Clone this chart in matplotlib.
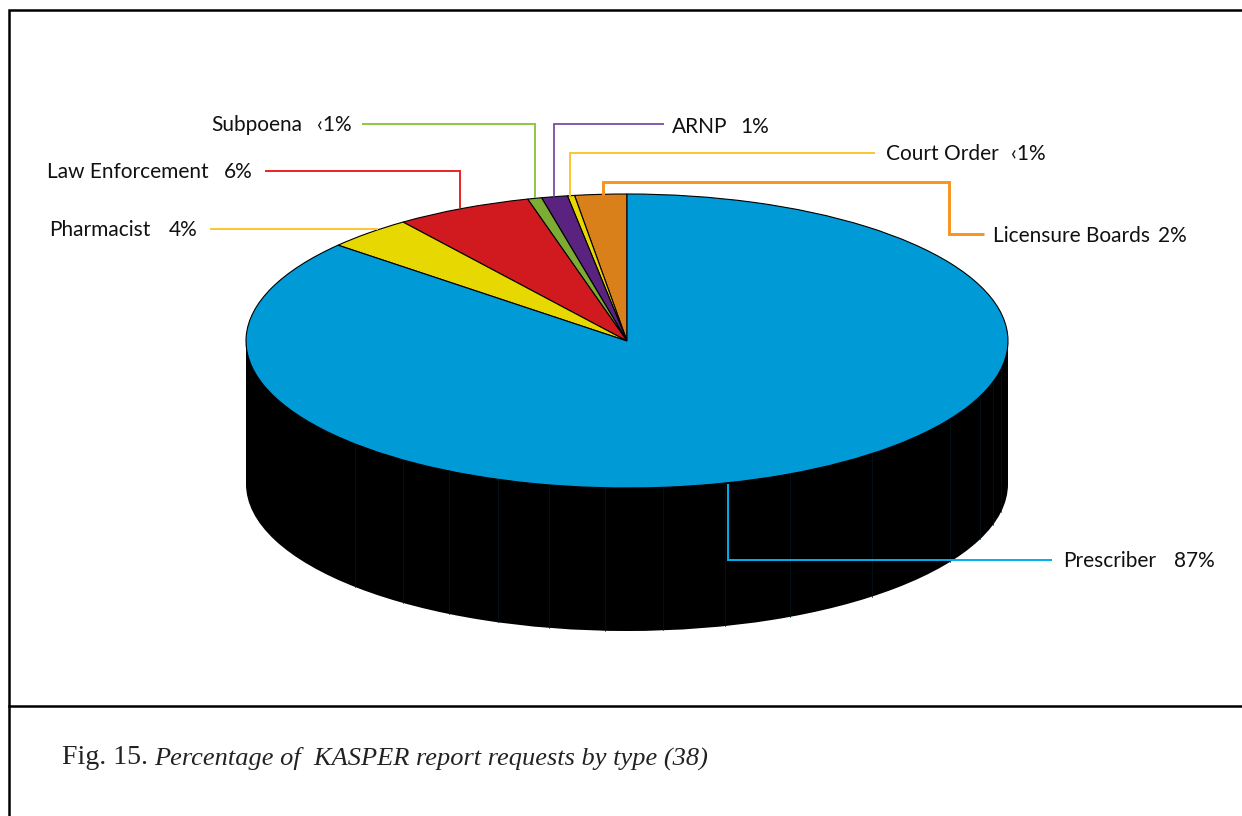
import numpy as np
import matplotlib
matplotlib.use("Agg")
import matplotlib.pyplot as plt

# slices, counter clockwise from 12 o'clock
names = ["Licensure Boards", "Court Order", "ARNP", "Subpoena", "Law Enforcement", "Pharmacist", "Prescriber"]
values = [2.2, 0.3, 1.1, 0.6, 5.8, 3.7, 86.3]
pct_labels = ["2%", "\u20391%", "1%", "\u20391%", "6%", "4%", "87%"]
slice_colors = ["#d9801a", "#e6d800", "#5a2380", "#7cac33", "#d11a20", "#e6d800", "#009ad6"]
leader_colors = ["#f7931e", "#fdc52f", "#6b3fa0", "#8dc63f", "#ed2024", "#fdc52f", "#00aeef"]
caption_head = "Fig. 15."
caption_body = "Percentage of  KASPER report requests by type (38)"

W, H = 1242, 816
cx, cy, rx, ry, depth = 627, 341, 381, 147, 143

fig = plt.figure(figsize=(W / 100, H / 100), dpi=100)

# pie axes: unit circle squashed into the ellipse
ax = fig.add_axes([0, 0, 1, 1])
ax.pie([1], colors=["black"], center=(0, -depth / ry), radius=1, startangle=90)
ax.fill_between([-1, 1], 0, -depth / ry, color="black", lw=0)

# faint facet lines on the wall
for px in [355, 403, 449, 498, 549, 605, 663, 725, 790, 872, 950, 980, 993, 1001]:
    u = (px - cx) / rx
    top = -np.sqrt(1 - u ** 2)
    ax.plot([u, u], [top, top - depth / ry], color="#04181f", lw=0.5, zorder=1.5)

ax.pie(values, colors=slice_colors, startangle=90, radius=1,
       wedgeprops=dict(edgecolor="black", linewidth=0.8, zorder=3))
ax.set_aspect("auto")
ax.set_xlim(-cx / rx, (W - cx) / rx)
ax.set_ylim(-(H - cy) / ry, cy / ry)
ax.axis("off")

# overlay in pixel coordinates for frame, leaders and text
ov = fig.add_axes([0, 0, 1, 1])
ov.set_xlim(0, W)
ov.set_ylim(H, 0)
ov.axis("off")
ov.patch.set_alpha(0)

# frame
ov.plot([W, 8.5, 8.5], [10, 10, H], color="black", lw=1.8, solid_joinstyle="miter")
ov.plot([8.5, W], [706, 706], color="black", lw=1.8)

leaders = {
    "Licensure Boards": ([603, 603, 949, 949, 984], [195, 182, 182, 234, 234], 2.1),
    "Court Order": ([570, 570, 875], [196, 153, 153], 1.4),
    "ARNP": ([554, 554, 664], [197, 124, 124], 1.2),
    "Subpoena": ([535, 535, 362], [198, 124, 124], 1.4),
    "Law Enforcement": ([460, 460, 265], [208, 171, 171], 1.4),
    "Pharmacist": ([378, 210], [229, 229], 1.4),
    "Prescriber": ([728, 728, 1052], [484, 560, 560], 1.4),
}
# name x, percent x, y
label_pos = {
    "Licensure Boards": (993, 1158, 236),
    "Court Order": (886, 1011, 154),
    "ARNP": (672, 740, 127),
    "Subpoena": (211, 317, 125),
    "Law Enforcement": (47, 224, 172),
    "Pharmacist": (49, 169, 230),
    "Prescriber": (1063, 1174, 561),
}
for name, pct, col in zip(names, pct_labels, leader_colors):
    xs, ys, lw = leaders[name]
    ov.plot(xs, ys, color=col, lw=lw, solid_joinstyle="miter", solid_capstyle="butt")
    nx, px, y = label_pos[name]
    ov.text(nx, y, name, family="Lato", fontsize=15, color="#111111", va="center", ha="left")
    ov.text(px, y, pct, family="Lato", fontsize=15, color="#111111", va="center", ha="left")

ov.text(62, 758, caption_head, family="Liberation Serif", fontsize=20, color="#222222", va="center")
ov.text(154, 758, caption_body, family="Liberation Serif", style="italic", fontsize=19,
        color="#222222", va="center")

fig.savefig("out.png", dpi=100, facecolor="white")
